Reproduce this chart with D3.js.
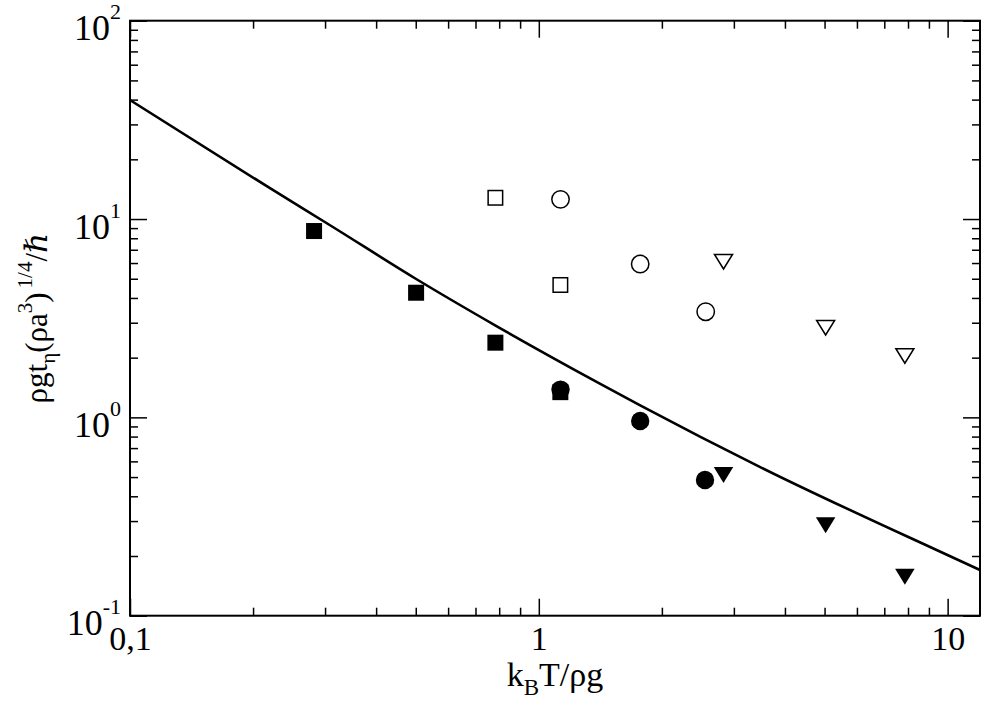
<!DOCTYPE html>
<html>
<head>
<meta charset="utf-8">
<script src="https://cdn.jsdelivr.net/npm/d3@7"></script>
<style>
  body { margin: 0; background: #fff; }
</style>
</head>
<body>
<svg id="chart" width="984" height="702"></svg>
<script>
// values (x = kBT/rho g, y = scaled time)
const filledSqX = [0.282, 0.501, 0.783, 1.129];
const filledSqY = [8.70, 4.25, 2.38, 1.34];
const openSqX = [0.783, 1.129];
const openSqY = [12.8, 4.65];
const filledCircX = [1.13, 1.77, 2.55];
const filledCircY = [1.38, 0.958, 0.483];
const openCircX = [1.13, 1.77, 2.56];
const openCircY = [12.57, 5.93, 3.41];
const filledTriX = [2.83, 5.03, 7.86];
const filledTriY = [0.512, 0.286, 0.157];
const openTriX = [2.83, 5.03, 7.86];
const openTriY = [6.09, 2.83, 2.04];

// theory curve, points
const curveX = [0.1, 0.22, 0.31, 0.5, 0.78, 1.41, 1.77, 3.49, 9.6, 12];
const curveY = [39.8, 14.3, 9.25, 5.0, 2.92, 1.48, 1.15, 0.56, 0.21, 0.17];

// axis ticks
const xMajor = [0.1, 1, 10];
const xLabels = ["0,1", "1", "10"];
const xMinor = [0.2, 0.3, 0.4, 0.5, 0.6, 0.7, 0.8, 0.9, 2, 3, 4, 5, 6, 7, 8, 9];
const yMajor = [0.1, 1, 10, 100];
const yExp = ["-1", "0", "1", "2"];
const yMinor = [0.2, 0.3, 0.4, 0.5, 0.6, 0.7, 0.8, 0.9,
                2, 3, 4, 5, 6, 7, 8, 9,
                20, 30, 40, 50, 60, 70, 80, 90];

const FONT = "'Liberation Serif', 'DejaVu Serif', serif";

let padding = { top: 20.7, right: 4, bottom: 86.3, left: 130 };
let svg = d3.select("#chart").attr("font-family", FONT);
let width = 984 - padding.left - padding.right;
let height = 702 - padding.top - padding.bottom;

let xScale = d3.scaleLog().domain([0.1, 12]).range([0, width]);
let yScale = d3.scaleLog().domain([0.1, 100]).range([height, 0]);

let g = svg.append("g").attr("transform", "translate(" + padding.left + "," + padding.top + ")");

svg.append("defs").append("clipPath").attr("id", "clip")
    .append("rect").attr("width", width).attr("height", height);

// Draw Axis - ticks point inwards on all four sides
function tickStyle(sel) {
    sel.attr("font-family", FONT);
    sel.select(".domain").remove();
    sel.selectAll(".tick line").attr("stroke", "#000").attr("stroke-width", 1.5);
}

let xAxis = g.append("g").attr("transform", "translate(0," + height + ")")
    .call(d3.axisBottom(xScale).tickValues(xMajor).tickSize(-17).tickPadding(10)
        .tickFormat((d, i) => xLabels[i]));
xAxis.call(tickStyle);
xAxis.selectAll(".tick text").attr("font-size", 34).attr("dy", "0.71em")
    .style("font-family", FONT);

g.append("g").attr("transform", "translate(0," + height + ")")
    .call(d3.axisBottom(xScale).tickValues(xMinor).tickSize(-8).tickFormat(""))
    .call(tickStyle);
g.append("g")
    .call(d3.axisTop(xScale).tickValues(xMajor).tickSize(-17).tickFormat(""))
    .call(tickStyle);
g.append("g")
    .call(d3.axisTop(xScale).tickValues(xMinor).tickSize(-8).tickFormat(""))
    .call(tickStyle);

let yAxis = g.append("g")
    .call(d3.axisLeft(yScale).tickValues(yMajor).tickSize(-17).tickPadding(9).tickFormat(""));
yAxis.call(tickStyle);
yAxis.selectAll(".tick text").each(function(d, i) {
    let t = d3.select(this).attr("font-size", 36).attr("dy", "0.53em").style("font-family", FONT);
    t.append("tspan").text("10");
    t.append("tspan").attr("font-size", 22).attr("dy", "-0.95em").text(yExp[i]);
});

g.append("g")
    .call(d3.axisLeft(yScale).tickValues(yMinor).tickSize(-8).tickFormat(""))
    .call(tickStyle);
g.append("g").attr("transform", "translate(" + width + ",0)")
    .call(d3.axisRight(yScale).tickValues(yMajor).tickSize(-17).tickFormat(""))
    .call(tickStyle);
g.append("g").attr("transform", "translate(" + width + ",0)")
    .call(d3.axisRight(yScale).tickValues(yMinor).tickSize(-8).tickFormat(""))
    .call(tickStyle);

// frame
g.append("rect").attr("width", width).attr("height", height)
    .attr("fill", "none").attr("stroke", "#000").attr("stroke-width", 2);

// theory line
let line = d3.line()
    .x(d => xScale(d[0]))
    .y(d => yScale(d[1]))
    .curve(d3.curveMonotoneX);

g.append("path")
    .datum(d3.zip(curveX, curveY))
    .attr("clip-path", "url(#clip)")
    .attr("d", line)
    .attr("fill", "none")
    .attr("stroke", "#000")
    .attr("stroke-width", 2.6);

// markers
let marks = g.append("g");

function squares(xs, ys, filled) {
    let s = filled ? 16 : 14.5;
    marks.selectAll(null).data(d3.zip(xs, ys)).join("rect")
        .attr("x", d => xScale(d[0]) - s / 2)
        .attr("y", d => yScale(d[1]) - s / 2)
        .attr("width", s).attr("height", s)
        .attr("fill", filled ? "#000" : "#fff")
        .attr("stroke", filled ? "none" : "#000")
        .attr("stroke-width", 1.5);
}

function circles(xs, ys, filled) {
    marks.selectAll(null).data(d3.zip(xs, ys)).join("circle")
        .attr("cx", d => xScale(d[0]))
        .attr("cy", d => yScale(d[1]))
        .attr("r", filled ? 9.2 : 8.7)
        .attr("fill", filled ? "#000" : "#fff")
        .attr("stroke", filled ? "none" : "#000")
        .attr("stroke-width", 1.5);
}

function triangles(xs, ys, filled) {
    let w = filled ? 19.5 : 18, h = filled ? 16 : 14.5;
    marks.selectAll(null).data(d3.zip(xs, ys)).join("path")
        .attr("transform", d => "translate(" + xScale(d[0]) + "," + yScale(d[1]) + ")")
        .attr("d", "M" + (-w / 2) + "," + (-h / 2) + "L" + (w / 2) + "," + (-h / 2) + "L0," + (h / 2) + "Z")
        .attr("fill", filled ? "#000" : "#fff")
        .attr("stroke", filled ? "none" : "#000")
        .attr("stroke-width", 1.5);
}

squares(filledSqX, filledSqY, true);
squares(openSqX, openSqY, false);
circles(filledCircX, filledCircY, true);
circles(openCircX, openCircY, false);
triangles(filledTriX, filledTriY, true);
triangles(openTriX, openTriY, false);

// axis titles
let xt = svg.append("text")
    .attr("x", padding.left + width / 2).attr("y", 686)
    .attr("text-anchor", "middle").attr("font-size", 34).style("font-family", FONT);
xt.append("tspan").text("k");
xt.append("tspan").attr("font-size", 23).attr("dy", 9).text("B");
xt.append("tspan").attr("dy", -9).text("T/ρg");

let yt = svg.append("text")
    .attr("transform", "translate(47," + (padding.top + height / 2) + ") rotate(-90)")
    .attr("text-anchor", "middle").attr("font-size", 31).style("font-family", FONT);
yt.append("tspan").text("ρgt");
yt.append("tspan").attr("font-size", 21).attr("dy", 8).text("η");
yt.append("tspan").attr("dy", -8).text("(ρa");
yt.append("tspan").attr("font-size", 21).attr("dy", -15).text("3");
yt.append("tspan").attr("dy", 15).text(")");
yt.append("tspan").attr("font-size", 21).attr("dy", -15).attr("dx", 4).text("1/4");
yt.append("tspan").attr("dy", 15).text("/ℏ");
</script>
</body>
</html>
